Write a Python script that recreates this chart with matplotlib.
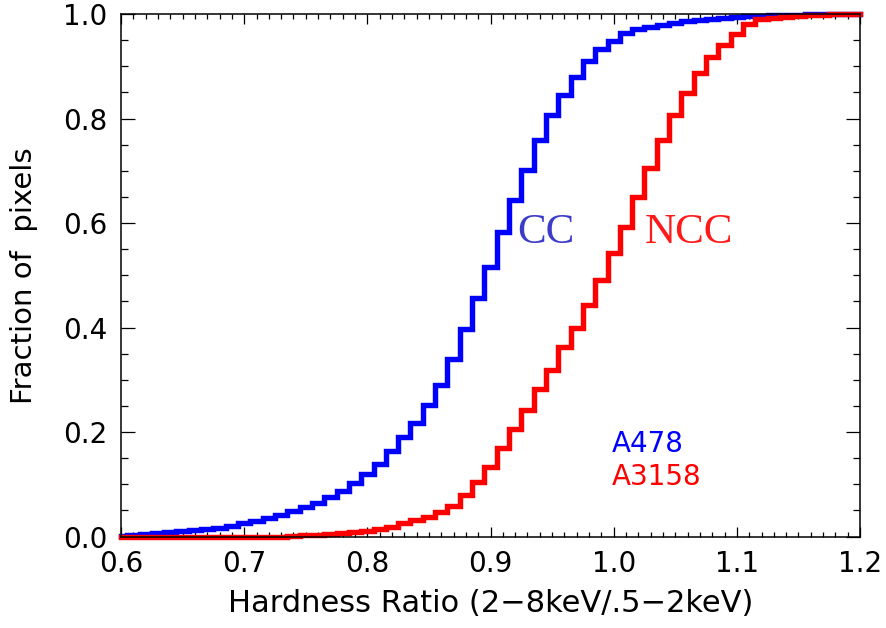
import numpy as np
import matplotlib
matplotlib.use("Agg")
import matplotlib.pyplot as plt
from matplotlib.ticker import MultipleLocator, FormatStrFormatter

# hardness ratio bin centres (0.60 ... 1.20, step 0.01)
hardness = np.round(np.arange(0.60, 1.2001, 0.01), 2)

# cumulative fraction of pixels, A478 (cool core)
frac_a478 = [
    0.001, 0.003, 0.004, 0.006, 0.008, 0.010, 0.012, 0.015, 0.017, 0.020,
    0.025, 0.029, 0.035, 0.042, 0.048, 0.056, 0.065, 0.075, 0.088, 0.103,
    0.120, 0.139, 0.163, 0.190, 0.218, 0.251, 0.289, 0.339, 0.398, 0.456,
    0.515, 0.582, 0.644, 0.701, 0.759, 0.807, 0.845, 0.879, 0.910, 0.933,
    0.948, 0.964, 0.971, 0.975, 0.979, 0.983, 0.987, 0.989, 0.991, 0.993,
    0.995, 0.996, 0.997, 0.998, 0.999, 0.999, 1.000, 1.000, 1.000, 1.000,
    1.000,
]

# cumulative fraction of pixels, A3158 (non cool core)
frac_a3158 = [
    0.000, 0.000, 0.000, 0.000, 0.000, 0.000, 0.000, 0.000, 0.000, 0.000,
    0.000, 0.000, 0.000, 0.000, 0.001, 0.002, 0.003, 0.004, 0.006, 0.008,
    0.011, 0.015, 0.019, 0.025, 0.031, 0.038, 0.046, 0.059, 0.079, 0.104,
    0.133, 0.169, 0.205, 0.243, 0.283, 0.318, 0.362, 0.400, 0.444, 0.490,
    0.542, 0.592, 0.649, 0.705, 0.759, 0.807, 0.849, 0.887, 0.918, 0.941,
    0.962, 0.981, 0.990, 0.993, 0.995, 0.997, 0.998, 0.999, 1.000, 1.000,
    1.000,
]

fig = plt.figure(figsize=(8.86, 6.28), dpi=100)
ax = fig.add_axes([0.1366, 0.1457, 0.8341, 0.8320])

ax.step(hardness, frac_a478, where="mid", color="#0000ff", lw=3.9,
        clip_on=False, solid_joinstyle="miter")
ax.step(hardness, frac_a3158, where="mid", color="#ff0000", lw=3.9,
        clip_on=False, solid_joinstyle="miter")

ax.set_xlim(0.6, 1.2)
ax.set_ylim(0.0, 1.0)

ax.xaxis.set_major_locator(MultipleLocator(0.1))
ax.xaxis.set_minor_locator(MultipleLocator(0.01))
ax.yaxis.set_major_locator(MultipleLocator(0.2))
ax.yaxis.set_minor_locator(MultipleLocator(0.05))
ax.xaxis.set_major_formatter(FormatStrFormatter("%.1f"))
ax.yaxis.set_major_formatter(FormatStrFormatter("%.1f"))

ax.tick_params(which="both", direction="in", top=True, right=True,
               width=0.9, color="black", labelsize=20)
ax.tick_params(axis="x", which="major", length=7.2, pad=10)
ax.tick_params(axis="x", which="minor", length=3.6)
ax.tick_params(axis="y", which="major", length=10, pad=10)
ax.tick_params(axis="y", which="minor", length=5)
for sp in ax.spines.values():
    sp.set_linewidth(1.1)

ax.set_xlabel("Hardness Ratio (2\u22128keV/.5\u22122keV)", fontsize=22)
ax.set_ylabel("Fraction of  pixels", fontsize=21)
ax.xaxis.set_label_coords(0.5, -0.101)
ax.yaxis.set_label_coords(-0.112, 0.5)

# class labels
ax.text(0.9215, 0.561, "CC", color="#3c3cc8", fontsize=31,
        family="Liberation Serif", ha="left", va="baseline")
ax.text(1.0254, 0.561, "NCC", color="#ff1a1a", fontsize=31,
        family="Liberation Serif", ha="left", va="baseline")

# cluster names
ax.text(0.9986, 0.161, "A478", color="#0000ff", fontsize=20,
        ha="left", va="baseline")
ax.text(0.9986, 0.098, "A3158", color="#ff0000", fontsize=20,
        ha="left", va="baseline")

fig.savefig("out.png", dpi=100)
